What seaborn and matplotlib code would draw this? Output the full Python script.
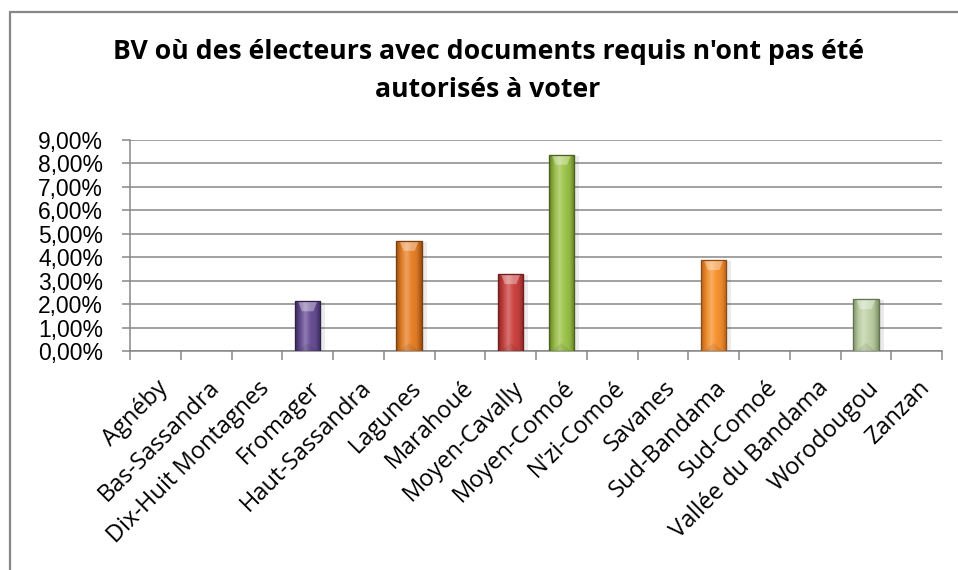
import numpy as np
import pandas as pd
import matplotlib
matplotlib.use("Agg")
import matplotlib.pyplot as plt
import matplotlib.transforms as mtransforms
import seaborn as sns
from matplotlib.colors import to_rgb, LinearSegmentedColormap
from matplotlib.patches import Polygon, Rectangle
from matplotlib.lines import Line2D
from matplotlib.ticker import FuncFormatter, FixedLocator

# Regions and share of polling stations (%)
regions = ["Agnéby", "Bas-Sassandra", "Dix-Huit Montagnes", "Fromager",
           "Haut-Sassandra", "Lagunes", "Marahoué", "Moyen-Cavally",
           "Moyen-Comoé", "N'zi-Comoé", "Savanes", "Sud-Bandama",
           "Sud-Comoé", "Vallée du Bandama", "Worodougou", "Zanzan"]
values = [0.0, 0.0, 0.0, 2.12, 0.0, 4.70, 0.0, 3.28,
          8.37, 0.0, 0.0, 3.88, 0.0, 0.0, 2.21, 0.0]

# (centre colour, edge colour) for each bar
centre_colors = ["#4f81bd", "#c0504d", "#9bbb59", "#6b5097",
                 "#4bacc6", "#e8822a", "#4f81bd", "#cc4543",
                 "#9fc54c", "#4bacc6", "#8064a2", "#f7922f",
                 "#4f81bd", "#c0504d", "#c0d3a8", "#4bacc6"]
edge_colors = ["#2c4d75", "#772c2a", "#5f7530", "#3b2a5a",
               "#2a6a7c", "#9a4f10", "#2c4d75", "#8a2524",
               "#5e7c24", "#2a6a7c", "#4d3b62", "#b3601a",
               "#2c4d75", "#772c2a", "#7d9166", "#2a6a7c"]

title_lines = ["BV où des électeurs avec documents requis n'ont pas été",
               "autorisés à voter"]

GRID = "#878787"

sns.set_theme(style="white")
plt.rcParams["font.family"] = ["Open Sans", "DejaVu Sans"]

fig = plt.figure(figsize=(9.58, 5.70), dpi=100)
ax = fig.add_axes([130 / 958, 1 - 351 / 570, 812 / 958, 211 / 570])

df = pd.DataFrame({"region": regions, "pct": values})
sns.barplot(data=df, x="region", y="pct", hue="region", palette=centre_colors,
            legend=False, width=0.5, saturation=1, ax=ax, zorder=3)

ax.set_xlim(-0.5, len(regions) - 0.5)
ax.set_ylim(0, 9)

# pixel -> data conversions for the bevel and shadow
fig.canvas.draw()
p0 = ax.transData.transform((0, 0))
p1 = ax.transData.transform((1, 1))
px_x = 1.0 / (p1[0] - p0[0])
px_y = 1.0 / (p1[1] - p0[1])

for patch, c_mid, c_edge in zip(ax.patches, centre_colors, edge_colors):
    h = patch.get_height()
    if h <= 0:
        patch.set_visible(False)
        continue
    x0, w = patch.get_x(), patch.get_width()
    mid = np.array(to_rgb(c_mid))
    edge = np.array(to_rgb(c_edge))
    light = mid + (1 - mid) * 0.25
    cmap = LinearSegmentedColormap.from_list(
        "cyl", [edge, mid * 0.85 + edge * 0.15, light, mid, mid * 0.8 + edge * 0.2, edge])
    # soft shadow on the right
    ax.add_patch(Rectangle((x0 + 2 * px_x, 0), w + 3 * px_x, h - 1 * px_y,
                           facecolor="#000000", alpha=0.08, lw=0, zorder=2))
    patch.set_edgecolor(edge * 0.8)
    patch.set_linewidth(0.8)
    grad = np.linspace(0, 1, 128).reshape(1, -1)
    im = ax.imshow(grad, extent=[x0, x0 + w, 0, h], aspect="auto",
                   cmap=cmap, zorder=3.1, interpolation="bilinear")
    im.set_clip_path(patch)
    # light bevel at the top, faint shading at the bottom
    depth = 10 * px_y
    inset = 3 * px_x
    ax.add_patch(Polygon([(x0 + inset, h), (x0 + w - inset, h),
                          (x0 + w - 7 * px_x, h - depth), (x0 + 7 * px_x, h - depth)],
                         closed=True, facecolor="white", alpha=0.35, lw=0, zorder=3.2))
    ax.add_patch(Polygon([(x0 + inset, 0), (x0 + w - inset, 0),
                          (x0 + w / 2, 8 * px_y)],
                         closed=True, facecolor="black", alpha=0.08, lw=0, zorder=3.2))
    ax.add_patch(Rectangle((x0, 0), w, h, facecolor="none",
                           edgecolor=edge * 0.8, lw=0.9, zorder=3.3))

ax.set_xlim(-0.5, len(regions) - 0.5)
ax.set_ylim(0, 9)

# y axis
ax.set_yticks(range(10))
ax.yaxis.set_major_formatter(FuncFormatter(lambda v, _: f"{v:.2f}".replace(".", ",") + "%"))
ax.tick_params(axis="y", left=True, length=6, width=1.1, color=GRID, pad=13.5,
               labelsize=16.5, labelcolor="black")
for lab in ax.get_yticklabels():
    lab.set_family(["Liberation Sans", "DejaVu Sans"])
ax.yaxis.grid(True, color=GRID, lw=1.1)
ax.set_axisbelow(True)

# x axis: ticks between categories
ax.xaxis.set_minor_locator(FixedLocator(np.arange(-0.5, len(regions), 1.0)))
ax.tick_params(axis="x", which="minor", bottom=True, length=6.5, width=1.1, color=GRID)
ax.tick_params(axis="x", which="major", bottom=False, length=0, pad=18,
               labelsize=17, labelcolor="black")
ax.set_xticks(range(len(regions)))
ax.set_xticklabels(regions, rotation=45, ha="right", rotation_mode="anchor")
shift = mtransforms.ScaledTranslation(1 / 100, 0, fig.dpi_scale_trans)
for lab in ax.get_xticklabels():
    lab.set_transform(lab.get_transform() + shift)
ax.set_xlabel("")
ax.set_ylabel("")

for side in ("top", "right"):
    ax.spines[side].set_visible(False)
for side in ("left", "bottom"):
    ax.spines[side].set_color(GRID)
    ax.spines[side].set_linewidth(1.1)

# title
for line, ypx in zip(title_lines, (52, 90)):
    fig.text(488 / 958, 1 - ypx / 570, line, ha="center", va="center",
             fontsize=19.2, fontweight="bold", color="black")

# chart area frame
fig.add_artist(Line2D([10 / 958, 10 / 958], [0, 1 - 12 / 570], transform=fig.transFigure,
                      color=GRID, lw=1.6))
fig.add_artist(Line2D([10 / 958, 1], [1 - 12 / 570, 1 - 12 / 570], transform=fig.transFigure,
                      color=GRID, lw=1.6))

fig.savefig("out.png", dpi=100, facecolor="white")
